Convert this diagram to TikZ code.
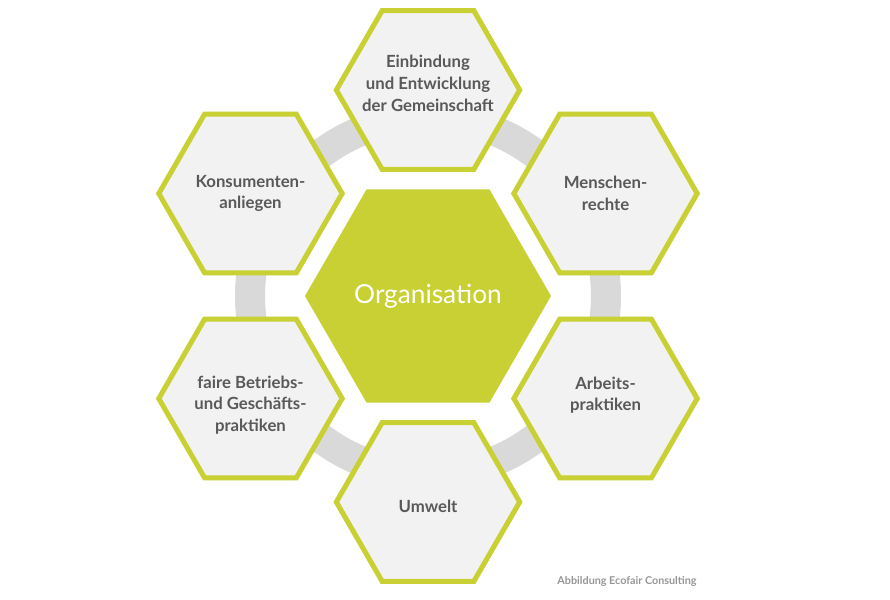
\documentclass[tikz,border=0pt]{standalone}
\usepackage{fontspec}
\setmainfont{Lato}
\usepackage{tikz}
\usetikzlibrary{shapes.geometric}

\definecolor{ecogreen}{RGB}{200,208,51}
\definecolor{hexfill}{RGB}{242,242,242}
\definecolor{ringgray}{RGB}{217,217,217}
\definecolor{textgray}{RGB}{89,89,89}
\definecolor{creditgray}{RGB}{150,150,150}

\begin{document}
\begin{tikzpicture}[
    hexbox/.style={
        regular polygon,
        regular polygon sides=6,
        draw=ecogreen,
        line width=4.3pt,
        fill=hexfill,
        minimum size=5.5cm,
        inner sep=0pt
    },
    hextext/.style={
        align=center,
        inner sep=0pt,
        text=textgray,
        font=\fontsize{14.3}{18.5}\selectfont\bfseries
    },
    corehex/.style={
        regular polygon,
        regular polygon sides=6,
        fill=ecogreen,
        minimum size=7.38cm,
        inner sep=0pt,
        text=white,
        font=\fontsize{22.4}{26}\selectfont
    },
    ring/.style={
        draw=ringgray,
        line width=0.9cm
    }
]

\useasboundingbox (-12.84, -9.09) rectangle (13.86, 8.88);

\draw[ring] (0, 0) circle (5.34cm);

\node[corehex] (org) at (0, 0) {Organisation};

\node[hexbox, label={[hextext, yshift=0.2cm]center:{Einbindung\\und Entwicklung\\der Gemeinschaft}}] (gemeinschaft) at (90:6.18) {};
\node[hexbox, label={[hextext]center:{Menschen-\\rechte}}] (menschen) at (30:6.15) {};
\node[hexbox, label={[hextext, yshift=0.1cm]center:{Arbeits-\\praktiken}}] (arbeit) at (-30:6.15) {};
\node[hexbox, label={[hextext, yshift=-0.12cm]center:{Umwelt}}] (umwelt) at (-90:6.18) {};
\node[hexbox, label={[hextext, yshift=-0.2cm]center:{faire Betriebs-\\und Geschäfts-\\praktiken}}] (betrieb) at (-150:6.15) {};
\node[hexbox, label={[hextext]center:{Konsumenten-\\anliegen}}] (konsum) at (150:6.15) {};

\node[text=creditgray, font=\fontsize{9.2}{11}\selectfont\bfseries] (credit) at (5.97, -8.55) {Abbildung Ecofair Consulting};

\end{tikzpicture}
\end{document}
